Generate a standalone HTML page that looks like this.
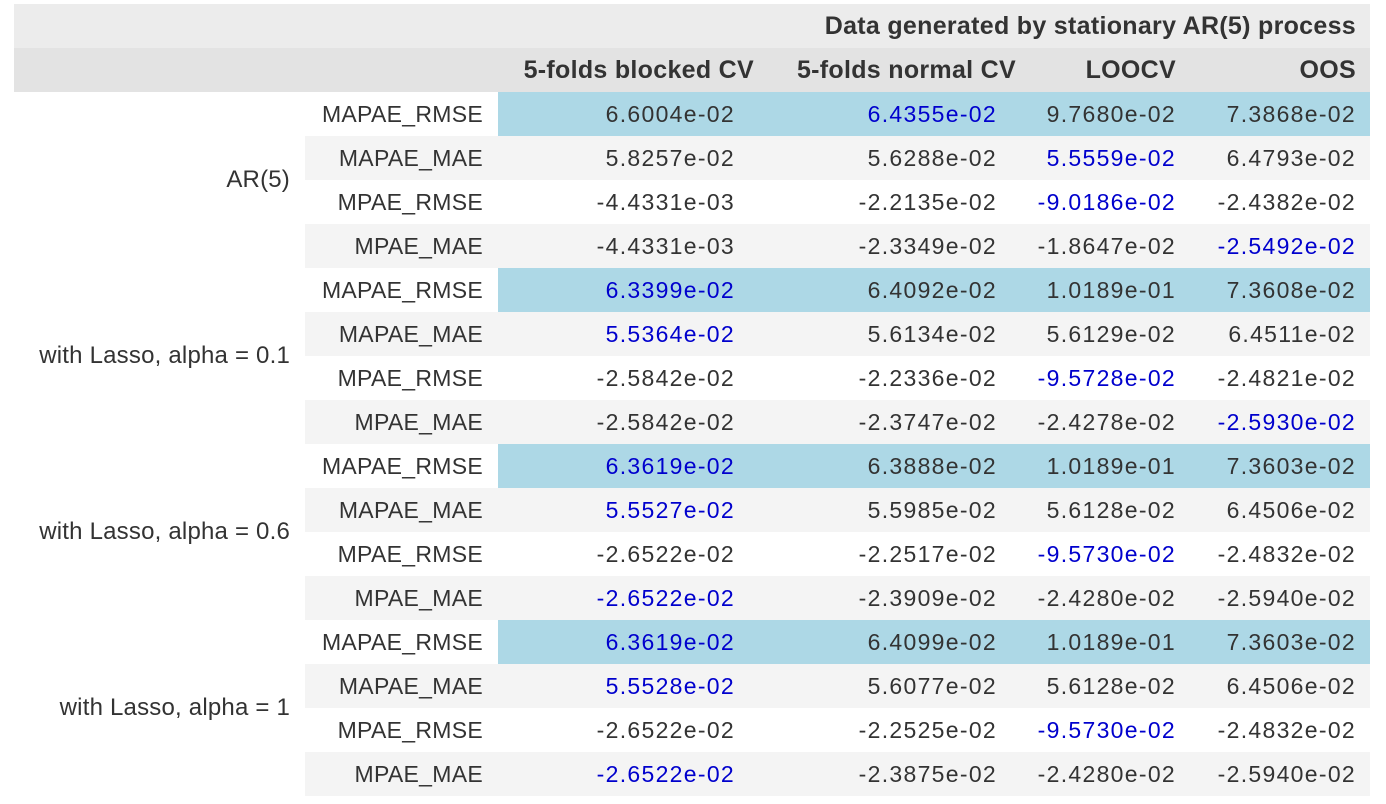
<!DOCTYPE html>
<html><head><meta charset="utf-8">
<style>
body{margin:0;width:1386px;height:804px;background:#fff;position:relative;overflow:hidden;font-family:"Liberation Sans",Arial,sans-serif;color:#333;}
.bg{position:absolute;}
.t{position:absolute;height:44px;line-height:44px;white-space:nowrap;text-align:right;}
.num{font-size:23px;letter-spacing:1.3px;}
.lab{font-size:23px;letter-spacing:0.3px;}
.grp{font-size:24px;letter-spacing:0.2px;}
.hd{font-size:25px;font-weight:bold;letter-spacing:0.3px;}
.blue{color:#0000cd;}
</style></head><body>
<div class="bg" style="left:14px;top:4px;width:1356px;height:44px;background:#ececec"></div>
<div class="bg" style="left:14px;top:48px;width:1356px;height:44px;background:#e3e3e3"></div>
<div class="t hd" style="left:500px;width:856px;top:4px">Data generated by stationary AR(5) process</div>
<div id="root"></div>
<script>
const cols=["5-folds blocked CV","5-folds normal CV","LOOCV","OOS"];
const metrics=["MAPAE_RMSE","MAPAE_MAE","MPAE_RMSE","MPAE_MAE"];
const groups=["AR(5)","with Lasso, alpha = 0.1","with Lasso, alpha = 0.6","with Lasso, alpha = 1"];
const values=[
["6.6004e-02","6.4355e-02","9.7680e-02","7.3868e-02"],
["5.8257e-02","5.6288e-02","5.5559e-02","6.4793e-02"],
["-4.4331e-03","-2.2135e-02","-9.0186e-02","-2.4382e-02"],
["-4.4331e-03","-2.3349e-02","-1.8647e-02","-2.5492e-02"],
["6.3399e-02","6.4092e-02","1.0189e-01","7.3608e-02"],
["5.5364e-02","5.6134e-02","5.6129e-02","6.4511e-02"],
["-2.5842e-02","-2.2336e-02","-9.5728e-02","-2.4821e-02"],
["-2.5842e-02","-2.3747e-02","-2.4278e-02","-2.5930e-02"],
["6.3619e-02","6.3888e-02","1.0189e-01","7.3603e-02"],
["5.5527e-02","5.5985e-02","5.6128e-02","6.4506e-02"],
["-2.6522e-02","-2.2517e-02","-9.5730e-02","-2.4832e-02"],
["-2.6522e-02","-2.3909e-02","-2.4280e-02","-2.5940e-02"],
["6.3619e-02","6.4099e-02","1.0189e-01","7.3603e-02"],
["5.5528e-02","5.6077e-02","5.6128e-02","6.4506e-02"],
["-2.6522e-02","-2.2525e-02","-9.5730e-02","-2.4832e-02"],
["-2.6522e-02","-2.3875e-02","-2.4280e-02","-2.5940e-02"]];
const bestCol=[1,2,2,3,0,0,2,3,0,0,2,0,0,0,2,0];
const colRight=[735,997,1176,1356];
const headRight=[754,1016,1176,1356];
const root=document.getElementById('root');
function div(cls,l,t,w,txt){const d=document.createElement('div');d.className=cls;d.style.left=l+'px';d.style.top=t+'px';d.style.width=w+'px';if(txt!==undefined)d.textContent=txt;root.appendChild(d);return d;}
cols.forEach((c,j)=>{
  const d=div('t hd',headRight[j]-300,48,300,c);
  
  
});
values.forEach((row,i)=>{
  const top=92+44*i;
  if(i%2===1){const b=div('bg',305,top,1065);b.style.height='44px';b.style.background='#f4f4f4';
    
    }
  if(i%4===0){const b=div('bg',498,top,872);b.style.height='44px';b.style.background='#add8e6';
    
    }
  const l=div('t lab',300,top,183,metrics[i%4]);
  
  
  row.forEach((v,j)=>{
    const d=div('t num'+(bestCol[i]===j?' blue':''),colRight[j]-240,top,240,v);
    
    
  });
});
groups.forEach((g,k)=>{
  const d=div('t grp',0,92+176*k+66,290,g);
  
  
});
</script>
</body></html>
